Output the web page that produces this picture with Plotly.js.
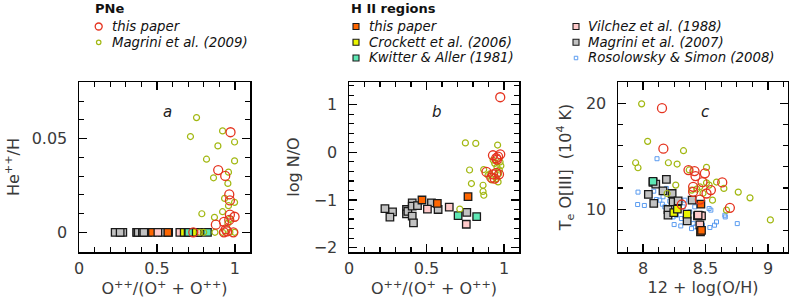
<!DOCTYPE html>
<html>
<head>
<meta charset="utf-8">
<script src="https://cdn.plot.ly/plotly-3.0.1.min.js"></script>
<style>html,body{margin:0;padding:0;background:#fff;} #chart{width:789px;height:304px;}</style>
</head>
<body>
<div id="chart"></div>
<script>
// ---------- Panel a: He++/H vs O++/(O+ + O++) ----------
const pneTP_a_ofrac = [0.972,0.893,0.938,0.964,0.968,0.968,0.998,0.964,0.878,0.930,0.942,0.930,0.950,0.990,0.733];
const pneTP_a_heii  = [0.0534,0.0332,0.0301,0.0202,0.0170,0.0094,0.0083,0.0066,0.0041,0.0056,0.0016,0.0,0.0005,0.0,0.0];
const pneM09_a_ofrac = [0.754,0.715,0.921,0.891,0.998,0.818,0.998,0.959,0.863,0.955,0.934,0.959,0.998,0.921,0.788,0.869,0.968,0.955,0.775,0.800,0.872,0.921,0.968,0.998];
const pneM09_a_heii  = [0.0612,0.0511,0.0541,0.0461,0.0482,0.0390,0.0381,0.0321,0.0291,0.0261,0.0181,0.0142,0.0160,0.0110,0.0099,0.0080,0.0069,0.0048,0,0,0,0,0,0];

// ---------- H II regions: O++/(O+ + O++) and log N/O ----------
const hiiM07_ofrac = [0.232,0.281,0.264,0.371,0.371,0.380,0.408,0.408,0.442,0.408,0.416,0.532,0.575,0.760];
const hiiM07_logNO = [-1.18,-1.25,-1.36,-1.20,-1.29,-1.24,-1.06,-1.13,-1.12,-1.34,-1.48,-1.06,-1.20,-1.26];
const hiiM07_heii  = [0,0,0,0,0,0,0,0,0,0,0,0,0,0];
const hiiTP_ofrac = [0.471,0.570,0.768];
const hiiTP_logNO = [-1.00,-1.07,-0.93];
const hiiTP_heii  = [0,0,0];
const hiiV88_ofrac = [0.506,0.647,0.757];
const hiiV88_logNO = [-1.19,-1.15,-1.51];
const hiiV88_heii  = [0,0,0];
const hiiKA81_ofrac = [0.704,0.824];
const hiiKA81_logNO = [-1.33,-1.35];
const hiiKA81_heii  = [0,0];
const hiiC06_ofrac = [0.675,0.700,0.730];
const hiiC06_heii  = [0,0,0];

// ---------- Panel b: PNe log N/O ----------
const pneTP_b_ofrac = [0.976,0.929,0.976,0.955,0.962,0.887,0.929,0.968,0.919,0.940,0.951,0.950];
const pneTP_b_logNO = [1.16,-0.06,-0.04,-0.15,-0.09,-0.41,-0.46,-0.46,-0.53,-0.55,-0.43,-0.12];
const pneM09_b_ofrac = [0.751,0.818,0.959,0.778,0.790,0.865,0.865,0.870,0.715,0.869,0.930,0.940,0.955,0.970,0.951,0.962,0.920,0.975,0.897,0.910,0.965,0.980];
const pneM09_b_logNO = [0.20,0.19,0.155,-0.37,-0.654,-0.69,-0.82,-0.90,-1.19,-0.36,-0.16,-0.23,-0.31,-0.37,-0.55,-0.62,-0.58,-0.20,-0.48,-0.45,-0.45,-0.28];

// ---------- Panel c: Te O[III] vs 12 + log(O/H) ----------
const pneTP_c_oh = [8.152,8.163,8.364,8.412,8.495,8.420,8.634,8.476,8.543,8.401,8.401,8.508,8.455,8.695,8.310];
const pneTP_c_te = [19.53,15.71,13.69,13.60,13.38,13.12,12.52,12.56,11.80,12.11,11.64,11.48,10.91,10.13,10.44];
const pneM09_c_oh = [7.989,8.037,7.941,7.960,8.203,8.273,8.324,8.508,8.508,8.588,8.647,8.529,8.390,8.455,8.556,8.762,8.856,9.019,8.668,8.193,8.262,8.370,8.430,8.480];
const pneM09_c_te = [19.94,16.40,14.38,13.91,14.38,14.26,15.52,13.94,12.49,12.56,11.96,12.27,11.80,12.11,10.85,11.61,11.07,8.99,9.91,11.48,12.27,13.70,11.90,11.50];
const hiiRS08_c_oh = [8.112,7.960,7.957,8.011,8.086,8.107,8.134,8.155,8.174,8.214,8.241,8.249,8.302,8.267,8.321,8.334,8.348,8.369,8.388,8.401,8.414,8.441,8.476,8.529,8.543,8.572,8.588,8.535,8.655,8.658,8.754,8.214,8.160,8.187,8.374,8.420,8.307];
const hiiRS08_c_te = [14.76,11.61,10.44,10.35,11.70,10.91,10.85,10.47,10.22,9.97,9.27,8.55,8.42,9.43,10.22,10.85,9.43,8.96,8.17,8.64,10.22,9.27,8.49,10.06,9.91,8.49,8.80,8.27,9.43,9.27,8.64,10.76,11.17,11.96,9.75,8.33,9.12];
const hiiM07_c_oh = [8.080,8.102,8.187,8.160,8.043,8.233,8.086,8.200,8.241,8.281,8.393,8.353,8.200,8.436,8.455];
const hiiM07_c_te = [12.52,12.37,12.81,11.73,11.39,11.48,10.54,9.97,10.69,10.79,10.85,8.90,9.43,9.37,9.40];
const hiiTP_c_oh = [8.463,8.460,8.468];
const hiiTP_c_te = [10.47,7.85,8.00];
const hiiV88_c_oh = [8.455,8.468,8.441];
const hiiV88_c_te = [8.52,9.37,9.43];
const hiiC06_c_oh = [8.246,8.275,8.353];
const hiiC06_c_te = [9.68,10.00,9.53];
const hiiKA81_c_oh = [8.080];
const hiiKA81_c_te = [12.62];

// ---------- tick labels / titles ----------
const xTitleAB = 'O<sup>++</sup>/(O<sup>+</sup> + O<sup>++</sup>)';
const yTitleA = 'He<sup>++</sup>/H';
const yTitleB = 'log N/O';
const xTitleC = '12 + log(O/H)';
const yTitleC = 'T<sub>e</sub> O[III]  (10<sup>4</sup> K)';

// ---------- styles ----------
const RED = '#e5331f', GREEN = '#a2b812', ORANGE = '#ff6600', YELLOW = '#eaf500',
      CYAN = '#5ee8b5', PINK = '#ffcaca', GRAY = '#c2c2c2', BLUE = '#5b9cf0', EDGE = '#1a1a1a';
const sq = (fill, size) => ({symbol:'square', size:size||7.5, color:fill, line:{color:EDGE, width:1.3}});
const redC = {symbol:'circle-open', size:9, color:RED, line:{color:RED, width:1.3}};
const grnC = {symbol:'circle-open', size:6, color:GREEN, line:{color:GREEN, width:1.2}};
const bluS = {symbol:'square-open', size:4, color:BLUE, line:{color:BLUE, width:1}};

function tr(x, y, marker, xa, ya) {
  return {type:'scatter', mode:'markers', x:x, y:y, marker:marker, xaxis:xa, yaxis:ya, showlegend:false, hoverinfo:'skip'};
}

const data = [
  // panel a
  tr(hiiM07_ofrac, hiiM07_heii, sq(GRAY), 'x', 'y'),
  tr(hiiTP_ofrac, hiiTP_heii, sq(ORANGE), 'x', 'y'),
  tr(hiiV88_ofrac, hiiV88_heii, sq(PINK), 'x', 'y'),
  tr(hiiC06_ofrac, hiiC06_heii, sq(YELLOW), 'x', 'y'),
  tr(hiiKA81_ofrac, hiiKA81_heii, sq(CYAN), 'x', 'y'),
  tr(pneM09_a_ofrac, pneM09_a_heii, grnC, 'x', 'y'),
  tr(pneTP_a_ofrac, pneTP_a_heii, redC, 'x', 'y'),
  // panel b
  tr(hiiM07_ofrac, hiiM07_logNO, sq(GRAY), 'x2', 'y2'),
  tr(hiiTP_ofrac, hiiTP_logNO, sq(ORANGE), 'x2', 'y2'),
  tr(hiiV88_ofrac, hiiV88_logNO, sq(PINK), 'x2', 'y2'),
  tr(hiiKA81_ofrac, hiiKA81_logNO, sq(CYAN), 'x2', 'y2'),
  tr(pneM09_b_ofrac, pneM09_b_logNO, grnC, 'x2', 'y2'),
  tr(pneTP_b_ofrac, pneTP_b_logNO, redC, 'x2', 'y2'),
  // panel c
  tr(hiiRS08_c_oh, hiiRS08_c_te, bluS, 'x3', 'y3'),
  tr(hiiM07_c_oh, hiiM07_c_te, sq(GRAY), 'x3', 'y3'),
  tr(hiiKA81_c_oh, hiiKA81_c_te, sq(CYAN), 'x3', 'y3'),
  tr(hiiV88_c_oh, hiiV88_c_te, sq(PINK), 'x3', 'y3'),
  tr(hiiC06_c_oh, hiiC06_c_te, sq(YELLOW), 'x3', 'y3'),
  tr(hiiTP_c_oh, hiiTP_c_te, sq(ORANGE), 'x3', 'y3'),
  tr(pneM09_c_oh, pneM09_c_te, grnC, 'x3', 'y3'),
  tr(pneTP_c_oh, pneTP_c_te, redC, 'x3', 'y3')
];

const W = 789, H = 304;
const FONT = 'DejaVu Sans, sans-serif';
const tickFont = {family: FONT, size: 16, color: '#3a3a3a'};
const titleFont = {family: FONT, size: 16, color: '#3a3a3a'};

function ax(domainPx, range, dtick, minorDtick, anchor, title, isY, standoff) {
  const d = isY ? [1 - domainPx[1]/H, 1 - domainPx[0]/H] : [domainPx[0]/W, domainPx[1]/W];
  return {
    domain: d, range: range, anchor: anchor, dtick: dtick, tick0: 0,
    ticks: 'inside', ticklen: 8, tickwidth: 1.3, tickcolor: '#000',
    minor: {dtick: minorDtick, ticks: 'inside', ticklen: 5, tickwidth: 1.1, tickcolor: '#000'},
    showline: true, linecolor: '#000', linewidth: 1.5, mirror: 'allticks',
    showgrid: false, zeroline: false, fixedrange: true,
    tickfont: tickFont, ticklabelstandoff: isY ? 7 : 1,
    title: {text: title, font: titleFont, standoff: standoff}
  };
}

const yDom = [82, 252];
const layout = {
  width: W, height: H,
  margin: {l: 0, r: 0, t: 0, b: 0},
  paper_bgcolor: '#fff', plot_bgcolor: '#fff',
  showlegend: false,
  xaxis:  ax([79, 250], [0, 1.097], 0.5, 0.1, 'y', xTitleAB, false, 3),
  yaxis:  ax(yDom, [-0.0105, 0.0802], 0.05, 0.01, 'x', yTitleA, true, 8),
  xaxis2: ax([349, 519], [0, 1.097], 0.5, 0.1, 'y2', xTitleAB, false, 3),
  yaxis2: ax(yDom, [-2.093, 1.48], 1, 0.2, 'x2', yTitleB, true, 10),
  xaxis3: ax([618, 788], [7.8, 9.16], 0.5, 0.125, 'y3', xTitleC, false, 3),
  yaxis3: ax(yDom, [5.96, 22.0], 10, 2, 'x3', yTitleC, true, 10),
  annotations: [],
  shapes: []
};

// panel letters
[['a','x','y'],['b','x2','y2'],['c','x3','y3']].forEach(([t, xa, ya]) => {
  layout.annotations.push({text: t, xref: xa + ' domain', yref: ya + ' domain', x: 0.516, y: 0.822,
    showarrow: false, font: {family: FONT, size: 15, color: '#222', style: 'italic'}, xanchor: 'center', yanchor: 'middle'});
});

// legend (drawn in paper space)
const legFont = {family: FONT, size: 13.3, color: '#111', style: 'italic'};
function legTitle(text, px, py) {
  layout.annotations.push({text: '<b>' + text + '</b>', xref: 'paper', yref: 'paper', x: px/W, y: 1 - py/H,
    xanchor: 'left', yanchor: 'middle', showarrow: false, font: {family: FONT, size: 13, color: '#111'}});
}
function legItem(text, mx, tx, py, kind, color, size, lw, lineColor) {
  layout.annotations.push({text: text, xref: 'paper', yref: 'paper', x: tx/W, y: 1 - py/H,
    xanchor: 'left', yanchor: 'middle', showarrow: false, font: legFont});
  const r = size/2;
  layout.shapes.push({type: kind === 'circle' ? 'circle' : 'rect', xref: 'paper', yref: 'paper',
    xsizemode: 'pixel', ysizemode: 'pixel', xanchor: mx/W, yanchor: 1 - py/H,
    x0: -r, x1: r, y0: -r, y1: r,
    fillcolor: kind === 'circle' || kind === 'open' ? 'rgba(0,0,0,0)' : color,
    line: {color: lineColor || color, width: lw}});
}
legTitle('PNe', 93, 8.5);
legItem('this paper', 98.7, 110, 26.5, 'circle', RED, 7, 1.3);
legItem('Magrini et al. (2009)', 98.7, 110, 42.3, 'circle', GREEN, 4.5, 1.2);
legTitle('H II regions', 349, 8.5);
legItem('this paper', 356, 366.5, 26.5, 'rect', ORANGE, 6, 1.1, EDGE);
legItem('Crockett et al. (2006)', 356, 366.5, 42.3, 'rect', YELLOW, 6, 1.1, EDGE);
legItem('Kwitter &amp; Aller (1981)', 356, 366.5, 58, 'rect', CYAN, 6, 1.1, EDGE);
legItem('Vilchez et al. (1988)', 576, 586, 26.5, 'rect', PINK, 6, 1.1, EDGE);
legItem('Magrini et al. (2007)', 576, 586, 42.3, 'rect', GRAY, 6, 1.1, EDGE);
legItem('Rosolowsky &amp; Simon (2008)', 576, 586, 58, 'open', BLUE, 3.5, 1.0);

Plotly.newPlot('chart', data, layout, {staticPlot: true, displayModeBar: false});
</script>
</body>
</html>
